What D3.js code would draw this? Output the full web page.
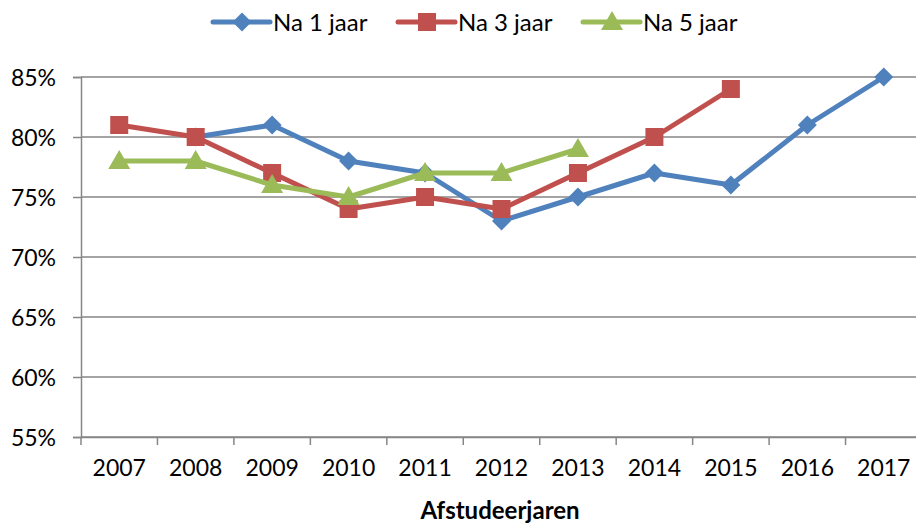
<!DOCTYPE html>
<html>
<head>
<meta charset="utf-8">
<script src="https://cdn.jsdelivr.net/npm/d3@7"></script>
<style>
  body { margin: 0; background: #fff; }
  text { font-family: Lato, "Liberation Sans", sans-serif; fill: #000; }
</style>
</head>
<body>
<div id="chart"></div>
<script>
// data
var years = ["2007", "2008", "2009", "2010", "2011", "2012", "2013", "2014", "2015", "2016", "2017"];
var na1 = [null, 80, 81, 78, 77, 73, 75, 77, 76, 81, 85];
var na3 = [81, 80, 77, 74, 75, 74, 77, 80, 84, null, null];
var na5 = [78, 78, 76, 75, 77, 77, 79, null, null, null, null];
var yTicks = [55, 60, 65, 70, 75, 80, 85];
var seriesNames = ["Na 1 jaar", "Na 3 jaar", "Na 5 jaar"];

var svgWidth = 916;
var svgHeight = 524;

var margin = { top: 77, right: -6, bottom: 87, left: 81 };
var width = svgWidth - margin.left - margin.right;
var height = svgHeight - margin.top - margin.bottom;

var svg = d3.select("#chart")
    .append("svg")
    .attr("width", svgWidth)
    .attr("height", svgHeight);

var chartGroup = svg.append("g")
    .attr("transform", `translate(${margin.left},${margin.top})`);

var series = [
    { name: seriesNames[0], values: na1, color: "#4F81BD", shape: "diamond" },
    { name: seriesNames[1], values: na3, color: "#C0504D", shape: "square" },
    { name: seriesNames[2], values: na5, color: "#9BBB59", shape: "triangle" }
];

//scales
var xScale = d3.scaleBand()
    .domain(years)
    .range([0, width]);

var yScale = d3.scaleLinear()
    .domain([55, 85])
    .range([height, 0]);

//gridlines + left axis
var leftAxis = d3.axisLeft(yScale)
    .tickValues(yTicks)
    .tickFormat(d => d + "%")
    .tickSize(8)
    .tickPadding(17);

chartGroup.append("g")
    .selectAll("line")
    .data(yTicks)
    .enter()
    .append("line")
    .attr("x1", 0)
    .attr("x2", width)
    .attr("y1", d => yScale(d))
    .attr("y2", d => yScale(d))
    .attr("stroke", "#868686")
    .attr("stroke-width", 1.5);

var yAxisG = chartGroup.append("g").call(leftAxis);
yAxisG.select(".domain").attr("stroke", "#868686").attr("stroke-width", 1.5);
yAxisG.selectAll(".tick line").attr("stroke", "#868686").attr("stroke-width", 1.5);
yAxisG.selectAll("text").style("font-size", "23px").attr("dy", "0.36em");

//bottom axis, ticks at category boundaries
var bottomAxis = d3.axisBottom(xScale).tickSize(0).tickPadding(23);
var xAxisG = chartGroup.append("g")
    .attr("transform", `translate(0, ${height})`)
    .call(bottomAxis);
xAxisG.select(".domain").attr("stroke", "#868686").attr("stroke-width", 1.5);
xAxisG.selectAll("text").style("font-size", "23px");

xAxisG.selectAll(".bound")
    .data(years)
    .enter()
    .append("line")
    .attr("x1", d => xScale(d))
    .attr("x2", d => xScale(d))
    .attr("y1", 0)
    .attr("y2", 8)
    .attr("stroke", "#868686")
    .attr("stroke-width", 1.5);

//lines
var line = d3.line()
    .defined(d => d.v != null)
    .x(d => xScale(d.year) + xScale.bandwidth() / 2)
    .y(d => yScale(d.v));

function markerPath(shape) {
    if (shape === "diamond") return d3.symbol().type(d3.symbolDiamond2).size(230)();
    if (shape === "square") return "M-9,-9H9V9H-9Z";
    return "M0,-11L11,8H-11Z";
}

series.forEach(function (s) {
    var pts = years.map((y, i) => ({ year: y, v: s.values[i] }));

    chartGroup.append("path")
        .datum(pts)
        .attr("d", line)
        .attr("fill", "none")
        .attr("stroke", s.color)
        .attr("stroke-width", 5)
        .attr("stroke-linejoin", "round")
        .attr("stroke-linecap", "round");

    chartGroup.selectAll(".m-" + s.shape)
        .data(pts.filter(d => d.v != null))
        .enter()
        .append("path")
        .attr("class", "m-" + s.shape)
        .attr("d", markerPath(s.shape))
        .attr("transform", d => `translate(${xScale(d.year) + xScale.bandwidth() / 2},${yScale(d.v)})`)
        .attr("fill", s.color);
});

//legend
var legendX = [213, 398, 583];
var legend = svg.append("g").attr("transform", "translate(0,22)");
series.forEach(function (s, i) {
    var g = legend.append("g").attr("transform", `translate(${legendX[i]},0)`);
    g.append("line")
        .attr("x1", 0).attr("x2", 57)
        .attr("y1", 0).attr("y2", 0)
        .attr("stroke", s.color)
        .attr("stroke-width", 5)
        .attr("stroke-linecap", "round");
    g.append("path")
        .attr("d", markerPath(s.shape))
        .attr("transform", "translate(29,0)")
        .attr("fill", s.color);
    g.append("text")
        .attr("x", 60)
        .attr("dy", "0.36em")
        .style("font-size", "24px")
        .text(s.name);
});

//axis title
svg.append("text")
    .attr("x", 500)
    .attr("y", 519)
    .attr("text-anchor", "middle")
    .style("font-size", "24px")
    .style("font-weight", "bold")
    .text("Afstudeerjaren");
</script>
</body>
</html>
